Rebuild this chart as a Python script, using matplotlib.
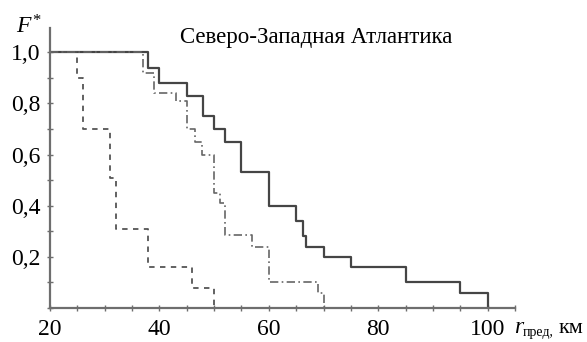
import numpy as np
import matplotlib
matplotlib.use("Agg")
import matplotlib.pyplot as plt
from matplotlib.ticker import MultipleLocator, FuncFormatter

# step points: x where the curve drops, value after the drop
solid_x = [20, 38, 40, 45, 48, 50, 52, 55, 60, 65, 66.3, 66.8, 70, 75, 85, 95, 100]
solid_y = [1.0, 0.94, 0.88, 0.83, 0.75, 0.70, 0.65, 0.53, 0.40, 0.34, 0.28, 0.24, 0.20, 0.16, 0.10, 0.06, 0.0]

dashed_x = [20, 25, 26, 31, 32, 38, 46, 50]
dashed_y = [1.0, 0.90, 0.70, 0.51, 0.31, 0.16, 0.08, 0.0]

dashdot_x = [20, 37, 39, 43, 45, 46.5, 47.8, 50, 51, 52, 57, 60, 69, 70]
dashdot_y = [1.0, 0.92, 0.84, 0.81, 0.70, 0.65, 0.60, 0.45, 0.41, 0.285, 0.24, 0.10, 0.06, 0.0]

x_ticks = [20, 40, 60, 80, 100]
y_ticks = [0.2, 0.4, 0.6, 0.8, 1.0]
title = "Северо-Западная Атлантика"

W, H = 587, 342
plt.rcParams['font.family'] = ['Liberation Serif', 'DejaVu Serif']
plt.rcParams['mathtext.fontset'] = 'custom'
plt.rcParams['mathtext.rm'] = 'Liberation Serif'
plt.rcParams['mathtext.it'] = 'Liberation Serif:italic'

fig = plt.figure(figsize=(W / 100, H / 100), dpi=100)
ax = fig.add_axes([50 / W, 34 / H, 465 / W, 280 / H])

ax.step(solid_x, solid_y, where='post', color='#454545', lw=1.6)
ax.step(dashed_x, dashed_y, where='post', color='#555555', lw=1.3,
        linestyle=(0, (3, 3)))
ax.step(dashdot_x, dashdot_y, where='post', color='#666666', lw=1.2,
        linestyle=(0, (5, 2, 1, 2)))

ax.set_xlim(20, 105)
ax.set_ylim(0, 1.095)
for s in ['top', 'right']:
    ax.spines[s].set_visible(False)
for s in ['left', 'bottom']:
    ax.spines[s].set_color('#6e6e6e')
    ax.spines[s].set_linewidth(1.6)

ax.set_xticks(x_ticks)
ax.set_yticks(y_ticks)
ax.xaxis.set_minor_locator(MultipleLocator(5))
ax.yaxis.set_minor_locator(MultipleLocator(0.1))
ax.yaxis.set_major_formatter(FuncFormatter(lambda v, p: f"{v:.1f}".replace('.', ',')))
ax.tick_params(which='both', direction='inout', length=4, width=1, color='#6e6e6e',
               labelsize=17, pad=5)
ax.tick_params(axis='x', pad=6)

fig.text(316 / W, 1 - 43 / H, title, ha='center', va='baseline', fontsize=16.5)
fig.text(16 / W, 1 - 33 / H, r"$F^{*}$", ha='left', va='baseline', fontsize=17)
fig.text(514 / W, 1 - 333 / H, "r", style='italic', ha='left', va='baseline', fontsize=17)
fig.text(523 / W, 1 - 336 / H, "пред,", ha='left', va='baseline', fontsize=10)
fig.text(559 / W, 1 - 333 / H, "км", ha='left', va='baseline', fontsize=16)

fig.savefig("out.png", dpi=100)
